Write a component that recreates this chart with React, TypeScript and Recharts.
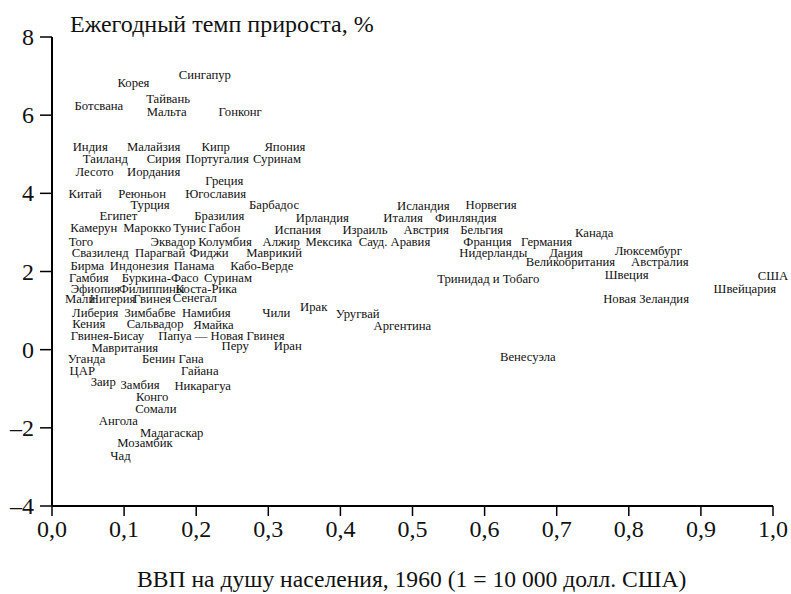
import React from 'react';
import { ScatterChart, Scatter, XAxis, YAxis, Label } from 'recharts';

const countries = [
  'Сингапур', 'Корея', 'Тайвань', 'Ботсвана', 'Мальта', 'Гонконг',
  'Индия', 'Малайзия', 'Кипр', 'Япония', 'Таиланд', 'Сирия', 'Португалия', 'Суринам',
  'Лесото', 'Иордания', 'Греция', 'Китай', 'Реюньон', 'Югославия',
  'Турция', 'Барбадос', 'Исландия', 'Норвегия',
  'Египет', 'Бразилия', 'Ирландия', 'Италия', 'Финляндия',
  'Камерун', 'Марокко', 'Тунис', 'Габон', 'Испания', 'Израиль', 'Австрия', 'Бельгия', 'Канада',
  'Того', 'Эквадор', 'Колумбия', 'Алжир', 'Мексика', 'Сауд. Аравия', 'Франция', 'Германия',
  'Свазиленд', 'Парагвай', 'Фиджи', 'Маврикий', 'Нидерланды', 'Дания', 'Люксембург',
  'Бирма', 'Индонезия', 'Панама', 'Кабо-Верде', 'Великобритания', 'Австралия',
  'Гамбия', 'Буркина-Фасо', 'Суринам', 'Тринидад и Тобаго', 'Швеция', 'США',
  'Швейцария', 'Новая Зеландия', 'Эфиопия', 'Филиппины', 'Коста-Рика',
  'Мали', 'Нигерия', 'Гвинея', 'Сенегал',
  'Либерия', 'Зимбабве', 'Намибия', 'Чили', 'Ирак', 'Уругвай', 'Аргентина',
  'Кения', 'Сальвадор', 'Ямайка', 'Гвинея-Бисау', 'Папуа — Новая Гвинея',
  'Мавритания', 'Перу', 'Иран', 'Уганда', 'Бенин', 'Гана', 'Венесуэла',
  'ЦАР', 'Гайана', 'Заир', 'Замбия', 'Никарагуа', 'Конго', 'Сомали',
  'Ангола', 'Мадагаскар', 'Мозамбик', 'Чад',
];

// GDP per capita 1960 (1 = 10 000 USD)
const gdp1960 = [
  0.212, 0.113, 0.161, 0.065, 0.159, 0.261,
  0.053, 0.141, 0.227, 0.323, 0.074, 0.155, 0.229, 0.312,
  0.059, 0.141, 0.239, 0.046, 0.125, 0.227,
  0.136, 0.308, 0.515, 0.609,
  0.092, 0.232, 0.375, 0.487, 0.574,
  0.058, 0.132, 0.191, 0.239, 0.341, 0.434, 0.519, 0.596, 0.752,
  0.040, 0.168, 0.240, 0.318, 0.384, 0.475, 0.604, 0.686,
  0.067, 0.150, 0.218, 0.308, 0.612, 0.713, 0.827,
  0.049, 0.121, 0.197, 0.291, 0.719, 0.843,
  0.051, 0.150, 0.244, 0.605, 0.797, 1.0,
  0.961, 0.824, 0.060, 0.138, 0.214,
  0.039, 0.084, 0.139, 0.198,
  0.060, 0.136, 0.214, 0.311, 0.363, 0.424, 0.486,
  0.051, 0.143, 0.224, 0.077, 0.235,
  0.101, 0.254, 0.327, 0.048, 0.148, 0.193, 0.660,
  0.042, 0.205, 0.071, 0.122, 0.209, 0.139, 0.144,
  0.092, 0.166, 0.129, 0.095,
];

// annual growth rate, %
const growthRate = [
  7.03, 6.83, 6.42, 6.24, 6.09, 6.09,
  5.19, 5.19, 5.19, 5.19, 4.88, 4.88, 4.88, 4.88,
  4.55, 4.55, 4.32, 3.99, 3.99, 3.99,
  3.71, 3.71, 3.68, 3.71,
  3.43, 3.43, 3.38, 3.38, 3.38,
  3.12, 3.12, 3.12, 3.12, 3.07, 3.07, 3.07, 3.07, 2.99,
  2.76, 2.76, 2.76, 2.76, 2.76, 2.76, 2.76, 2.76,
  2.48, 2.48, 2.48, 2.48, 2.48, 2.48, 2.53,
  2.15, 2.15, 2.15, 2.15, 2.25, 2.25,
  1.84, 1.84, 1.84, 1.82, 1.92, 1.89,
  1.56, 1.3, 1.56, 1.56, 1.56,
  1.3, 1.3, 1.3, 1.33,
  0.95, 0.95, 0.95, 0.95, 1.1, 0.9, 0.61,
  0.66, 0.66, 0.64, 0.36, 0.36,
  0.05, 0.1, 0.1, -0.23, -0.23, -0.23, -0.18,
  -0.54, -0.54, -0.84, -0.9, -0.92, -1.2, -1.51,
  -1.82, -2.12, -2.38, -2.71,
];

const xTicks = [0, 0.1, 0.2, 0.3, 0.4, 0.5, 0.6, 0.7, 0.8, 0.9, 1.0];
const yTicks = [-4, -2, 0, 2, 4, 6, 8];

const FONT = '"Liberation Serif", "Times New Roman", serif';

const data = countries.map((name, i) => ({
  name,
  gdp: gdp1960[i],
  growth: growthRate[i],
}));

function fmtX(v: number): string {
  return v.toFixed(1).replace('.', ',');
}

function fmtY(v: number): string {
  return v < 0 ? `–${Math.abs(v)}` : String(v);
}

function CountryLabel(props: any) {
  const { cx, cy, payload } = props;
  if (cx == null || cy == null) return null;
  return (
    <text
      x={cx}
      y={cy}
      textAnchor="middle"
      dominantBaseline="central"
      fontFamily={FONT}
      fontSize={12.7}
      fill="#111"
    >
      {payload.name}
    </text>
  );
}

function XTick(props: any) {
  const { x, y, payload } = props;
  return (
    <text x={x} y={y + 19} textAnchor="middle" fontFamily={FONT} fontSize={24} fill="#111">
      {fmtX(payload.value)}
    </text>
  );
}

function YTick(props: any) {
  const { x, y, payload } = props;
  return (
    <text x={x} y={y} textAnchor="end" dominantBaseline="central" fontFamily={FONT} fontSize={24} fill="#111">
      {fmtY(payload.value)}
    </text>
  );
}

export default function App() {
  return (
    <div style={{ position: 'absolute', left: 0, top: 0, background: '#fff' }}>
      <ScatterChart
        width={791}
        height={594}
        margin={{ top: 37, right: 18, bottom: 38, left: 0 }}
      >
        <XAxis
          type="number"
          dataKey="gdp"
          domain={[0, 1]}
          ticks={xTicks}
          interval={0}
          tick={<XTick />}
          tickSize={10}
          tickLine={{ stroke: '#000', strokeWidth: 1.5 }}
          axisLine={{ stroke: '#000', strokeWidth: 2 }}
          height={50}
        >
          <Label
            content={() => (
              <text x={137} y={587} fontFamily={FONT} fontSize={23.6} fill="#111">
                ВВП на душу населения, 1960 (1 = 10 000 долл. США)
              </text>
            )}
          />
        </XAxis>
        <YAxis
          type="number"
          dataKey="growth"
          domain={[-4, 8]}
          ticks={yTicks}
          interval={0}
          tick={<YTick />}
          tickSize={12}
          tickMargin={6}
          tickLine={{ stroke: '#000', strokeWidth: 1.5 }}
          axisLine={{ stroke: '#000', strokeWidth: 2 }}
          width={52}
        >
          <Label
            content={() => (
              <text x={70} y={32} fontFamily={FONT} fontSize={24} fill="#111">
                Ежегодный темп прироста, %
              </text>
            )}
          />
        </YAxis>
        <Scatter data={data} shape={<CountryLabel />} isAnimationActive={false} />
      </ScatterChart>
    </div>
  );
}
